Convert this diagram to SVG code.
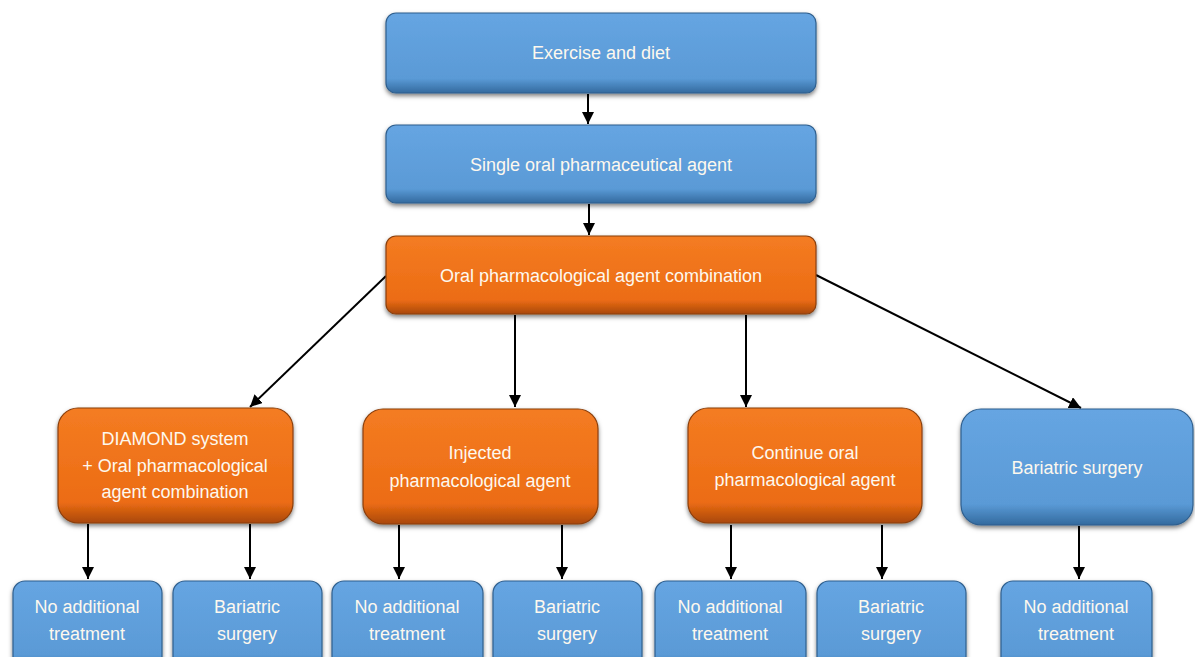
<svg xmlns="http://www.w3.org/2000/svg" width="1195" height="657" viewBox="0 0 1195 657">
<defs>
<linearGradient id="gBlue" x1="0" y1="0" x2="0" y2="1">
<stop offset="0" stop-color="#66a5e2"/>
<stop offset="0.82" stop-color="#5a9ad6"/>
<stop offset="1" stop-color="#336a9e"/>
</linearGradient>
<linearGradient id="gOrange" x1="0" y1="0" x2="0" y2="1">
<stop offset="0" stop-color="#f47c22"/>
<stop offset="0.82" stop-color="#ec6c14"/>
<stop offset="1" stop-color="#a9480a"/>
</linearGradient>
<filter id="sh" x="-10%" y="-10%" width="120%" height="130%">
<feDropShadow dx="0" dy="2.5" stdDeviation="2" flood-color="#000" flood-opacity="0.5"/>
</filter>
<marker id="ah" viewBox="0 0 10 10" refX="10" refY="5" markerWidth="12" markerHeight="12" markerUnits="userSpaceOnUse" orient="auto">
<path d="M0,0 L10,5 L0,10 z" fill="#000"/>
</marker>
</defs>
<style>
.blue{fill:url(#gBlue);stroke:#2f5f8e;stroke-width:1.2;filter:url(#sh)}
.orange{fill:url(#gOrange);stroke:#8a3f0c;stroke-width:1.2;filter:url(#sh)}
.t{font-family:"Liberation Sans",Arial,sans-serif;font-size:18px;fill:#fdf8ee;text-anchor:middle}
.c{stroke:#000;stroke-width:2;fill:none;marker-end:url(#ah)}
</style>
<rect width="1195" height="657" fill="#ffffff"/>
<g id="connectors">
<line class="c" x1="588" y1="94" x2="588" y2="124"/>
<line class="c" x1="589" y1="204" x2="589" y2="235"/>
<line class="c" x1="386" y1="276" x2="250" y2="407"/>
<line class="c" x1="515" y1="315" x2="515" y2="407"/>
<line class="c" x1="746" y1="315" x2="746" y2="407"/>
<line class="c" x1="816" y1="275" x2="1081" y2="408"/>
<line class="c" x1="88" y1="524" x2="88" y2="579"/>
<line class="c" x1="250" y1="524" x2="250" y2="579"/>
<line class="c" x1="399" y1="525" x2="399" y2="579"/>
<line class="c" x1="562" y1="525" x2="562" y2="579"/>
<line class="c" x1="731" y1="525" x2="731" y2="579"/>
<line class="c" x1="882" y1="525" x2="882" y2="579"/>
<line class="c" x1="1079" y1="526" x2="1079" y2="579"/>
</g>
<g id="exercise">
<rect class="blue" x="386" y="13" width="430" height="80" rx="10"/>
<text class="t" x="601" y="59">Exercise and diet</text>
</g>
<g id="single">
<rect class="blue" x="386" y="125" width="430" height="78" rx="10"/>
<text class="t" x="601" y="171">Single oral pharmaceutical agent</text>
</g>
<g id="combination">
<rect class="orange" x="386" y="236" width="430" height="78" rx="10"/>
<text class="t" x="601" y="282">Oral pharmacological agent combination</text>
</g>
<g id="diamond">
<rect class="orange" x="58" y="408" width="235" height="115" rx="20"/>
<text class="t" x="175" y="445">DIAMOND system</text>
<text class="t" x="175" y="472">+ Oral pharmacological</text>
<text class="t" x="175" y="498">agent combination</text>
</g>
<g id="injected">
<rect class="orange" x="363" y="409" width="235" height="115" rx="20"/>
<text class="t" x="480" y="459">Injected</text>
<text class="t" x="480" y="487">pharmacological agent</text>
</g>
<g id="continue">
<rect class="orange" x="688" y="408" width="234" height="115" rx="20"/>
<text class="t" x="805" y="459">Continue oral</text>
<text class="t" x="805" y="486">pharmacological agent</text>
</g>
<g id="bariatric">
<rect class="blue" x="961" y="409" width="232" height="116" rx="20"/>
<text class="t" x="1077" y="474">Bariatric surgery</text>
</g>
<g id="r1">
<rect class="blue" x="13" y="581" width="149" height="90" rx="12"/>
<text class="t" x="87" y="613">No additional</text>
<text class="t" x="87" y="640">treatment</text>
</g>
<g id="r2">
<rect class="blue" x="173" y="581" width="149" height="90" rx="12"/>
<text class="t" x="247" y="613">Bariatric</text>
<text class="t" x="247" y="640">surgery</text>
</g>
<g id="r3">
<rect class="blue" x="332" y="581" width="151" height="90" rx="12"/>
<text class="t" x="407" y="613">No additional</text>
<text class="t" x="407" y="640">treatment</text>
</g>
<g id="r4">
<rect class="blue" x="493" y="581" width="149" height="90" rx="12"/>
<text class="t" x="567" y="613">Bariatric</text>
<text class="t" x="567" y="640">surgery</text>
</g>
<g id="r5">
<rect class="blue" x="655" y="581" width="151" height="90" rx="12"/>
<text class="t" x="730" y="613">No additional</text>
<text class="t" x="730" y="640">treatment</text>
</g>
<g id="r6">
<rect class="blue" x="817" y="581" width="149" height="90" rx="12"/>
<text class="t" x="891" y="613">Bariatric</text>
<text class="t" x="891" y="640">surgery</text>
</g>
<g id="r7">
<rect class="blue" x="1001" y="581" width="151" height="90" rx="12"/>
<text class="t" x="1076" y="613">No additional</text>
<text class="t" x="1076" y="640">treatment</text>
</g>
</svg>
